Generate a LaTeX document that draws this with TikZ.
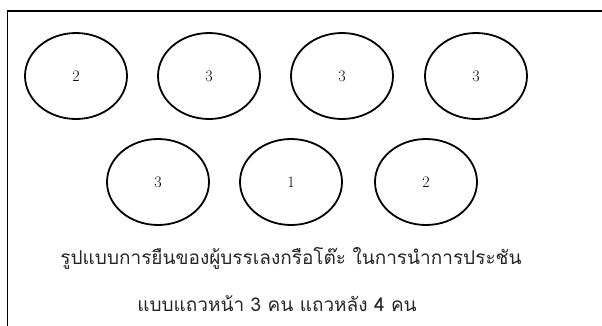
\documentclass[tikz,border=0pt]{standalone}
\usepackage{fontspec}
\newfontfamily\thaifont[Script=Thai]{Loma}
\usetikzlibrary{shapes.geometric}

\begin{document}
\begin{tikzpicture}[x=1pt, y=-1pt,
    seat/.style={ellipse, draw, line width=1.8pt, minimum width=102pt, minimum height=86pt, inner sep=0pt, font=\fontsize{16}{18}\selectfont},
    caption/.style={font=\thaifont\fontsize{19}{22}\selectfont, text=black!85}
]
    \useasboundingbox (0,0) rectangle (602,325);
    \draw[line width=1.8pt] (7.5,340) -- (7.5,11) -- (620,11);
    % back row
    \node[seat] (s1) at (76,76) {2};
    \node[seat] (s2) at (209,76) {3};
    \node[seat] (s3) at (342,76) {3};
    \node[seat] (s4) at (476,76) {3};
    % front row
    \node[seat] (s5) at (158,182) {3};
    \node[seat] (s6) at (291,182) {1};
    \node[seat] (s7) at (426,182) {2};
    % caption
    \node[caption] (t1) at (291,258) {รูปแบบการยืนของผู้บรรเลงกรือโต๊ะ ในการนำการประชัน};
    \node[caption] (t2) at (277,304) {แบบแถวหน้า 3 คน แถวหลัง 4 คน};
\end{tikzpicture}
\end{document}
